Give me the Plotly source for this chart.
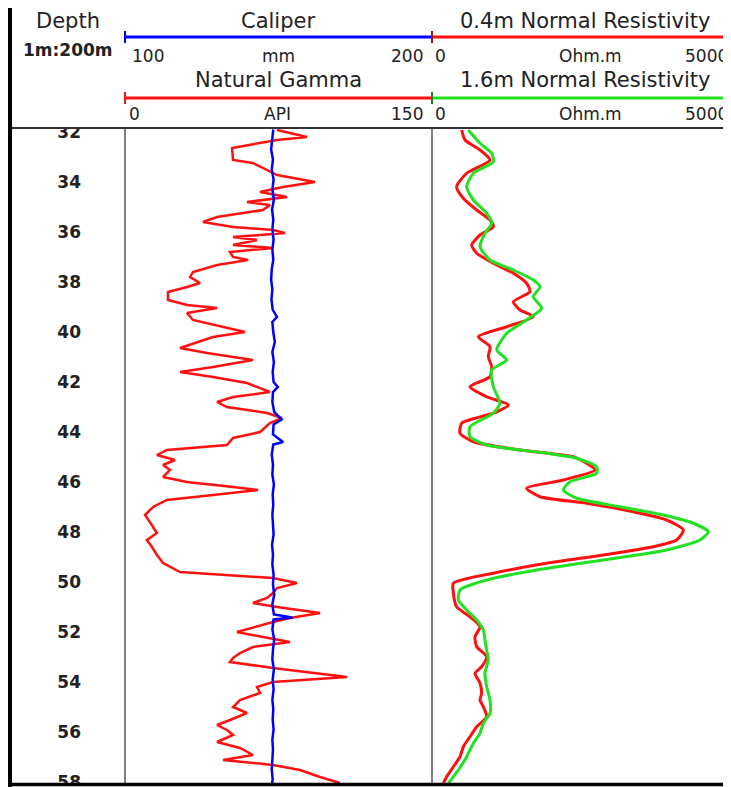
import plotly.graph_objects as go

# ---------------- data ----------------
depth_ticks = [32, 34, 36, 38, 40, 42, 44, 46, 48, 50, 52, 54, 56, 58]

gamma_depth = [31.92, 32.2, 32.32, 32.64, 33.12, 33.24, 33.52, 33.72, 34.0, 34.2,
               34.4, 34.6, 34.8, 34.92, 35.12, 35.4, 35.6, 35.8, 35.92, 36.04,
               36.2, 36.32, 36.52, 36.64, 36.8, 37.0, 37.12, 37.32, 37.6, 37.8,
               38.04, 38.2, 38.4, 38.72, 38.92, 39.04, 39.24, 39.52, 40.0, 40.2,
               40.64, 40.84, 41.12, 41.4, 41.6, 41.8, 42.04, 42.24, 42.4, 42.6,
               42.8, 43.0, 43.12, 43.24, 43.44, 43.64, 44.0, 44.24, 44.52, 44.72,
               44.92, 45.12, 45.32, 45.52, 45.8, 46.0, 46.2, 46.32, 46.52, 46.72,
               47.0, 47.32, 47.8, 48.04, 48.32, 48.6, 48.92, 49.24, 49.6, 49.72,
               49.84, 50.04, 50.24, 50.44, 50.64, 50.84, 51.0, 51.24, 51.44, 51.6,
               52.0, 52.2, 52.4, 52.6, 52.84, 53.04, 53.2, 53.44, 53.8, 54.0,
               54.2, 54.44, 54.72, 55.0, 55.24, 55.52, 55.72, 55.92, 56.12, 56.4,
               56.64, 56.92, 57.12, 57.32, 57.52, 57.8, 58.04]
gamma_api = [74.3, 88.9, 74.3, 52.3, 52.8, 62.5, 69.4, 74.3, 92.8, 77.2,
             66.0, 79.2, 59.6, 70.8, 67.4, 45.0, 38.1, 52.8, 72.3, 78.2,
             52.8, 64.5, 52.8, 72.3, 51.3, 52.8, 60.1, 45.0, 33.2, 31.8,
             36.6, 30.3, 21.0, 21.0, 30.3, 45.0, 30.3, 33.2, 58.6, 43.0,
             26.9, 40.1, 62.5, 43.0, 26.9, 43.0, 59.6, 66.0, 70.8, 52.8,
             45.0, 49.8, 59.6, 69.4, 76.7, 70.8, 66.0, 52.8, 49.8, 20.5,
             15.6, 24.4, 18.6, 22.0, 18.6, 30.3, 52.8, 65.0, 43.0, 20.5,
             13.7, 9.8, 13.7, 15.6, 10.7, 13.2, 15.6, 18.6, 26.9, 49.8,
             72.3, 84.0, 74.3, 72.3, 69.4, 62.5, 74.3, 95.3, 80.6, 72.3,
             54.7, 67.4, 80.6, 62.5, 56.2, 52.8, 51.3, 72.3, 108.5, 72.3,
             64.5, 66.0, 56.2, 52.8, 59.6, 51.3, 45.0, 49.8, 52.8, 45.0,
             56.2, 62.5, 47.9, 72.3, 85.5, 95.3, 105.0]

cal_depth = [31.9, 32.3, 32.7, 33.1, 33.5, 33.9, 34.3, 34.7, 35.1, 35.5,
             35.9, 36.3, 36.7, 37.1, 37.5, 37.9, 38.3, 38.7, 39.1,
             39.4, 39.6, 40.0, 40.4, 40.8, 41.2, 41.6, 42.0, 42.2, 42.4,
             42.8, 43.2, 43.5, 43.7, 44.1, 44.4, 44.5, 44.9, 45.3, 45.7,
             46.1, 46.5, 46.9, 47.3, 47.7, 48.1, 48.5, 48.9, 49.3, 49.7,
             50.1, 50.5, 50.9, 51.3, 51.42, 51.5, 51.9, 52.3, 52.7, 53.1,
             53.5, 53.9, 54.3, 54.7, 55.1, 55.5, 55.9, 56.3, 56.7, 57.1,
             57.5, 57.9, 58.05]
cal_mm = [148.3, 148.0, 147.6, 148.2, 147.8, 148.4, 148.0, 148.5, 147.9, 148.3,
          148.0, 148.4, 148.0, 148.3, 147.8, 147.6, 148.0, 147.7, 148.1,
          149.5, 148.0, 148.3, 148.8, 148.0, 148.5, 148.1, 148.4, 149.8, 148.2,
          148.0, 148.6, 151.0, 148.4, 148.2, 151.5, 148.3, 147.8, 148.2, 148.0,
          148.5, 148.1, 148.3, 148.0, 148.2, 148.4, 147.9, 148.2, 148.0, 148.4,
          148.2, 148.6, 148.0, 148.5, 154.5, 148.4, 148.0, 148.6, 148.2, 148.0,
          148.5, 148.1, 148.4, 148.0, 148.3, 148.1, 148.4, 148.0, 148.2, 148.0,
          147.8, 148.1, 147.9]

res04_depth = [31.92, 32.32, 32.72, 33.12, 33.65, 34.19, 34.65, 35.12, 35.52, 35.79,
               36.12, 36.52, 36.85, 37.25, 37.65, 38.05, 38.39, 38.79, 39.12, 39.39,
               39.79, 40.19, 40.59, 40.99, 41.39, 41.79, 42.19, 42.59, 42.92, 43.25,
               43.65, 44.05, 44.39, 44.72, 44.99, 45.25, 45.52, 45.92, 46.25, 46.59,
               46.85, 47.19, 47.52, 47.92, 48.32, 48.59, 48.92, 49.25, 49.65, 50.05,
               50.45, 50.99, 51.39, 51.79, 52.19, 52.59, 52.99, 53.39, 53.65, 54.05,
               54.45, 54.72, 54.99, 55.39, 55.79, 56.19, 56.59, 56.99, 57.39, 57.79, 58.05]
res04_ohm = [483, 538, 782, 945, 565, 401, 510, 728, 945, 999,
             782, 646, 728, 999, 1325, 1542, 1596, 1325, 1434, 1650,
             1216, 755, 945, 917, 972, 945, 618, 890, 1244, 999,
             483, 456, 673, 1434, 2301, 2519, 2655, 2139, 1542, 1759,
             2519, 3279, 3822, 4094, 3984, 3605, 2790, 1868, 999, 348,
             348, 401, 618, 782, 700, 728, 890, 808, 700, 782,
             808, 782, 836, 890, 728, 618, 510, 456, 348, 239, 185]

res16_depth = [31.92, 32.45, 32.85, 33.19, 33.65, 34.19, 34.72, 35.25, 35.65, 36.05,
               36.59, 37.12, 37.52, 37.92, 38.19, 38.59, 39.05, 39.52, 40.05, 40.72,
               41.12, 41.52, 42.19, 42.85, 43.25, 43.79, 44.19, 44.52, 44.85, 45.05,
               45.39, 45.65, 45.99, 46.32, 46.65, 46.99, 47.32, 47.65, 47.99, 48.32,
               48.72, 49.12, 49.52, 49.92, 50.32, 50.72, 51.12, 51.52, 51.92, 52.32,
               52.72, 53.12, 53.65, 54.19, 54.72, 55.25, 55.65, 56.05, 56.45, 56.99,
               57.52, 58.05]
res16_ohm = [592, 782, 972, 999, 673, 565, 673, 890, 972, 863,
             782, 945, 1325, 1650, 1759, 1650, 1786, 1542, 1216, 1054,
             1216, 972, 999, 1107, 999, 618, 618, 890, 1868, 2356,
             2682, 2682, 2248, 2139, 2356, 3062, 3767, 4256, 4500, 4365,
             3822, 2790, 1705, 890, 456, 429, 565, 728, 836, 863,
             890, 917, 863, 890, 945, 945, 836, 782, 673, 565,
             429, 266]

# ---------------- layout helpers (page pixel -> paper) ----------------
PAGE_W, PAGE_H = 731, 787
OFF = 8                      # default body margin of the html page
W, H = PAGE_W - OFF, PAGE_H - OFF
PL, PR, PT, PB = 10, 731, 128, 783   # plot area in page pixels
ML, MR, MT, MB = PL - OFF, W - (PR - OFF), PT - OFF, H - (PB - OFF)
PW = PR - PL
PH = PB - PT


def PX(x):
    return (x - PL) / PW


def PY(y):
    return (PB - y) / PH


T1L, T1R, T2R = 125, 432, 739
RED = "#ff1010"
BLUE = "#0000ff"
GREEN = "#22e022"
TXT = "#222222"
FONT = "DejaVu Sans"

fig = go.Figure()

fig.add_trace(go.Scatter(x=cal_mm, y=cal_depth, xaxis="x2", yaxis="y", mode="lines",
                         line=dict(color=BLUE, width=2.5), name="Caliper"))
fig.add_trace(go.Scatter(x=gamma_api, y=gamma_depth, xaxis="x", yaxis="y", mode="lines",
                         line=dict(color=RED, width=2.5), name="Natural Gamma"))
fig.add_trace(go.Scatter(x=res16_ohm, y=res16_depth, xaxis="x4", yaxis="y", mode="lines",
                         line=dict(color=GREEN, width=3, shape="spline", smoothing=0.6),
                         name="1.6m Normal Resistivity"))
fig.add_trace(go.Scatter(x=res04_ohm, y=res04_depth, xaxis="x3", yaxis="y", mode="lines",
                         line=dict(color=RED, width=3, shape="spline", smoothing=0.6),
                         name="0.4m Normal Resistivity"))

res_max_visible = 5000 * (PR - T1R) / (T2R - T1R)
hidden = dict(visible=False, showgrid=False, zeroline=False, fixedrange=True,
              automargin=False)

fig.update_layout(
    width=W, height=H,
    margin=dict(l=ML, r=MR, t=MT, b=MB, pad=0, autoexpand=False),
    paper_bgcolor="white", plot_bgcolor="white",
    showlegend=False,
    xaxis=dict(domain=[PX(T1L), PX(T1R)], range=[0, 150], anchor="y", **hidden),
    xaxis2=dict(overlaying="x", range=[100, 200], anchor="y", **hidden),
    xaxis3=dict(domain=[PX(T1R), 1.0], range=[0, res_max_visible], anchor="y", **hidden),
    xaxis4=dict(overlaying="x3", range=[0, res_max_visible], anchor="y", **hidden),
    yaxis=dict(range=[58.04, 31.84], anchor="free", position=PX(81),
               tickvals=depth_ticks, ticktext=[str(t) for t in depth_ticks],
               ticks="", showline=False, showgrid=False, zeroline=False,
               ticklabeloverflow="allow", automargin=False,
               tickfont=dict(family=FONT, size=17, color=TXT, weight="bold")),
)

shapes = []


def line(x0, y0, x1, y1, color, width, layer="above"):
    shapes.append(dict(type="line", xref="paper", yref="paper",
                       x0=PX(x0), y0=PY(y0), x1=PX(x1), y1=PY(y1),
                       line=dict(color=color, width=width), layer=layer))


# track separators
line(T1L, 128, T1L, 783, "#555555", 1.5, "below")
line(T1R, 128, T1R, 783, "#555555", 1.5, "below")
# white covers for header and bottom strip
shapes.append(dict(type="rect", xref="paper", yref="paper", x0=PX(0), x1=PX(PAGE_W + 10),
                   y0=PY(0), y1=PY(128), fillcolor="white", line=dict(width=0), layer="above"))
shapes.append(dict(type="rect", xref="paper", yref="paper", x0=PX(0), x1=PX(PAGE_W + 10),
                   y0=PY(783), y1=PY(PAGE_H + 2), fillcolor="white", line=dict(width=0), layer="above"))
# frame
line(10, 7, PAGE_W, 7, "#111111", 2)
line(10, 128, PAGE_W, 128, "#333333", 2)
line(10, 784.5, PAGE_W, 784.5, "#000000", 3.5)
line(10, 6, 10, PAGE_H, "#000000", 4)
# header scale lines
line(T1L, 37, T1R, 37, BLUE, 3)
line(T1R, 37, T2R, 37, RED, 3)
line(T1L, 98, T1R, 98, RED, 3)
line(T1R, 98, T2R, 98, GREEN, 3)
line(T1L, 31, T1L, 43, BLUE, 2)
line(T1R, 31, T1R, 43, "#a01010", 2)
line(T1L, 92, T1L, 104, RED, 2)
line(T1R, 92, T1R, 104, "#208020", 2)

fig.update_layout(shapes=shapes)

ann = []


def text(s, x, y, size, anchor="center", bold=False):
    ann.append(dict(text=s, xref="paper", yref="paper", x=PX(x), y=PY(y),
                    xanchor=anchor, yanchor="middle", showarrow=False,
                    font=dict(family=FONT, size=size, color=TXT,
                              weight="bold" if bold else "normal")))


text("Depth", 67.5, 21, 21)
text("1m:200m", 67.5, 50, 17, bold=True)
text("Caliper", 278, 21, 21)
text("0.4m Normal Resistivity", 585, 21, 21)
text("100", 130, 56, 17, "left")
text("mm", 278, 56, 17)
text("200", 425, 56, 17, "right")
text("0", 433, 56, 17, "left")
text("Ohm.m", 590, 56, 17)
text("5000", 730, 56, 17, "right")
text("Natural Gamma", 278, 80, 21)
text("1.6m Normal Resistivity", 585, 80, 21)
text("0", 127, 114, 17, "left")
text("API", 277, 114, 17)
text("150", 425, 114, 17, "right")
text("0", 433, 114, 17, "left")
text("Ohm.m", 590, 114, 17)
text("5000", 730, 114, 17, "right")

fig.update_layout(annotations=ann)

fig.write_html("out.html")
